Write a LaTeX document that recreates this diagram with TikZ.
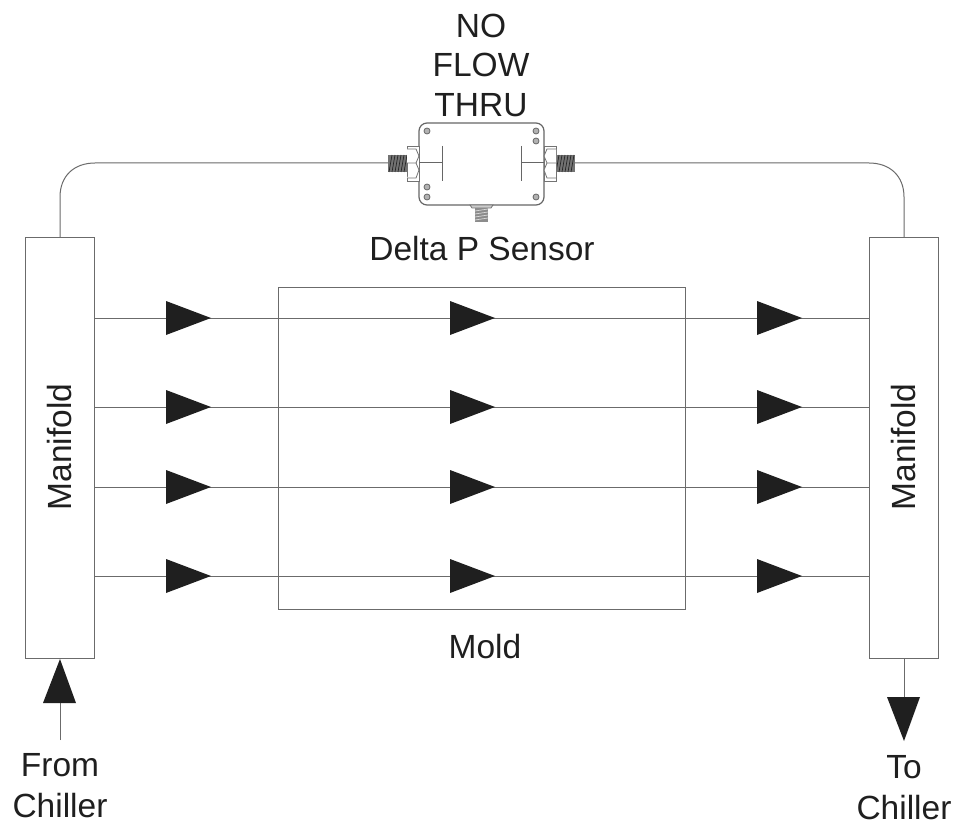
\documentclass[tikz,border=0pt]{standalone}
\usepackage{fontspec}
\setmainfont{Liberation Sans}
\definecolor{ln}{gray}{0.42}
\definecolor{ink}{gray}{0.12}
\tikzset{
  box/.style={draw=ln,line width=1pt,fill=white,inner sep=0pt},
  pipe/.style={draw=ln,line width=1pt},
  lbl/.style={font=\fontsize{33.5}{33.5}\selectfont,text=ink,inner sep=0pt,anchor=base},
  rlbl/.style={font=\fontsize{33.5}{33.5}\selectfont,text=ink,inner sep=0pt,anchor=center,rotate=90},
  tri/.style={fill=ink,draw=none},
  thread/.style={fill=black!55},
  stripe/.style={draw=black!85,line width=.7pt},
  nut/.style={draw=black!55,line width=.8pt,fill=white},
  screw/.style={draw=black!60,fill=black!30,line width=.8pt},
}
\newcommand{\flowtri}[2]{\fill[tri] (#1,#2-17) -- (#1+45,#2) -- (#1,#2+17) -- cycle;}
\begin{document}
\begin{tikzpicture}[x=1pt,y=-1pt]
\useasboundingbox (0,0) rectangle (953,821);
\fill[white] (0,0) rectangle (953,821);
% nodes
\node[box,minimum width=69pt,minimum height=420pt] (ml) at (59.5,448) {};
\node[box,minimum width=69pt,minimum height=420pt] (mr) at (903.5,448) {};
\node[box,minimum width=407pt,minimum height=322pt,fill=none] (mold) at (481.5,448) {};
\node[rlbl] (tml) at (60,447) {Manifold};
\node[rlbl] (tmr) at (904,447) {Manifold};
\node[lbl] (tmold) at (485,658) {Mold};
\node[lbl] (tno) at (481,38) {NO};
\node[lbl] (tflow) at (481,77) {FLOW};
\node[lbl] (tthru) at (481,117) {THRU};
\node[lbl] (tds) at (482,260) {Delta P Sensor};
\node[lbl] (tfrom) at (60,776) {From};
\node[lbl] (tc1) at (60,817) {Chiller};
\node[lbl] (tto) at (904,778) {To};
\node[lbl] (tc2) at (904,819) {Chiller};
% flow lines
\foreach \y/\n in {318/a,407/b,487/c,576/d}{
  \coordinate (l\n) at (94,\y);
  \coordinate (r\n) at (869,\y);
  \draw[pipe] (l\n) -- (r\n);
  \flowtri{166}{\y}
  \flowtri{450}{\y}
  \flowtri{757}{\y}
}
% sensor
\node[draw=black!60,line width=1.2pt,fill=white,rounded corners=8pt,minimum width=125pt,minimum height=82pt,inner sep=0pt] (sensor) at (481.5,164) {};
\coordinate (sl) at (388,163);
\coordinate (sr) at (575,163);
\coordinate (plt) at (60,238);
\coordinate (prt) at (904,238);
\draw[pipe] (plt) -- (60,197) .. controls (60,176) and (74,163) .. (95,163) -- (sl);
\draw[pipe] (prt) -- (904,197) .. controls (904,176) and (890,163) .. (869,163) -- (sr);
% threads
\fill[thread] (388,155) rectangle (408,172);
\fill[thread] (556,155) rectangle (575,172);
\foreach \x in {389,392,...,404}{
  \draw[stripe] (\x,172) -- (\x+3,155);
  \draw[stripe] (\x+167,172) -- (\x+170,155);
}
% left nut
\draw[nut] (407,146) rectangle (419,181);
\draw[nut] (407,149) -- (416,149) -- (419,156) -- (416,163) -- (407,163) (416,163) -- (419,170) -- (416,178) -- (407,178);
% right nut
\draw[nut] (544,146) rectangle (556,181);
\draw[nut] (556,149) -- (547,149) -- (544,156) -- (547,163) -- (556,163) (547,163) -- (544,170) -- (547,178) -- (556,178);
% internal plates
\draw[draw=black!60,line width=1pt] (419,163) -- (442,163) (442,146) -- (442,181);
\draw[draw=black!60,line width=1pt] (544,163) -- (521,163) (521,146) -- (521,181);
% screws
\foreach \p in {(427,131),(536,131),(536,141),(427,187),(427,197),(536,197)}{
  \draw[screw] \p circle (3pt);
}
% bottom connector
\draw[draw=black!55,fill=black!20,line width=.8pt] (470,205) -- (493,205) -- (491,208) -- (472,208) -- cycle;
\fill[black!45] (475,208) rectangle (488,222);
\foreach \y in {211,214,...,221}{
  \draw[black!15,line width=.7pt] (475,\y) -- (488,\y-2);
}
% inlet / outlet
\coordinate (inl) at (60,740);
\coordinate (outl) at (904,697);
\draw[pipe] (inl) -- (60,700);
\fill[tri] (60,659) -- (76,703) -- (43,703) -- cycle;
\draw[pipe] (mr.south -| 904,0) -- (outl);
\fill[tri] (904,741) -- (887,697) -- (920,697) -- cycle;
\end{tikzpicture}
\end{document}
